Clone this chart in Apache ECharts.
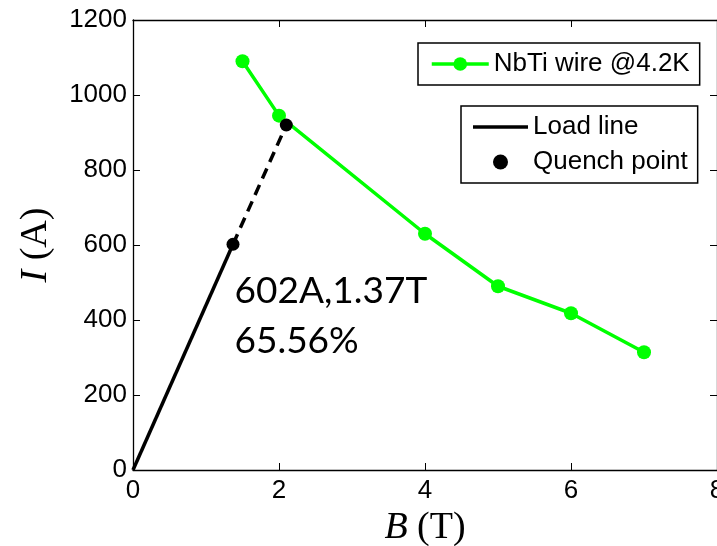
<!DOCTYPE html>
<html>
<head>
<meta charset="utf-8">
<script src="https://cdn.jsdelivr.net/npm/echarts@6/dist/echarts.min.js"></script>
<style>
  html, body { margin: 0; padding: 0; background: #fff; }
  #grafico { width: 717px; height: 546px; }
</style>
</head>
<body>
<div id="grafico"></div>
<script>
	// dados
	var campoB   = [1.5, 2, 4, 5, 6, 7];            // B (T) do fio
	var correnteI = [1090, 945, 630, 490, 418, 314]; // I (A) do fio
	var cargaSolida  = [[0, 0], [1.37, 602]];         // load line (trecho cheio)
	var cargaTracada = [[1.37, 602], [2.1, 920]];     // load line (trecho tracejado)
	var pontosQuench = [[1.37, 602], [2.1, 920]];
	var ticksX = [0, 2, 4, 6, 8];
	var ticksY = [0, 200, 400, 600, 800, 1000, 1200];
	var textoQuench = ['602A,1.37T', '65.56%'];

	var fio = campoB.map(function(b, i){ return [b, correnteI[i]]; });

	var fonte = "'Liberation Sans', Arial, sans-serif";
	var serifa = "'Liberation Serif', 'Times New Roman', serif";
	var eixoBase = {
		type: 'value',
		axisLine: { show: true, onZero: false, lineStyle: { color: '#000', width: 1.3 } },
		axisTick: { show: true, inside: true, length: 7, lineStyle: { color: '#000', width: 1 } },
		splitLine: { show: false }
	};

	var myChart = echarts.init(document.getElementById('grafico'));

	var option = {
		animation: false,
		backgroundColor: '#fff',
		grid: { left: 133, right: 0, top: 20, bottom: 76, containLabel: false, outerBoundsMode: 'none' },
		xAxis: [
			Object.assign({}, eixoBase, {
				min: ticksX[0], max: ticksX[ticksX.length - 1], interval: 2,
				axisLabel: { color: '#000', fontSize: 26, fontFamily: fonte, margin: 8 },
				name: '{i|B} (T)',
				nameLocation: 'middle',
				nameGap: 27,
				nameTextStyle: {
					color: '#000', fontSize: 38, fontFamily: serifa,
					rich: { i: { fontStyle: 'italic', fontSize: 38, fontFamily: serifa, color: '#000' } }
				}
			}),
			Object.assign({}, eixoBase, {
				position: 'top', min: 0, max: 8, interval: 2,
				axisLabel: { show: false }
			})
		],
		yAxis: [
			Object.assign({}, eixoBase, {
				min: ticksY[0], max: ticksY[ticksY.length - 1], interval: 200,
				axisLabel: { color: '#000', fontSize: 26, fontFamily: fonte, margin: 6,
					formatter: function(v){ return String(v); } },
				name: '{i|I} (A)',
				nameLocation: 'middle',
				nameGap: 78,
				nameTextStyle: {
					color: '#000', fontSize: 38, fontFamily: serifa,
					rich: { i: { fontStyle: 'italic', fontSize: 38, fontFamily: serifa, color: '#000' } }
				}
			}),
			Object.assign({}, eixoBase, {
				position: 'right', min: 0, max: 1200, interval: 200,
				axisLabel: { show: false }
			})
		],
		legend: [
			{
				data: ['NbTi wire @4.2K'],
				left: 418, top: 43,
				orient: 'vertical',
				itemWidth: 57, itemHeight: 17,
				padding: [8, 10, 8, 12],
				borderColor: '#000', borderWidth: 1.5,
				lineStyle: { width: 3.5 },
				textStyle: { color: '#000', fontSize: 26, fontFamily: fonte }
			},
			{
				data: [
					{ name: 'Load line', icon: 'path://M0,0 H55 V3.5 H0 Z' },
					{ name: 'Quench point', icon: 'circle' }
				],
				left: 461, top: 106,
				orient: 'vertical',
				align: 'left',
				itemWidth: 55, itemHeight: 15, itemGap: 9,
				padding: [8, 10, 8, 12],
				borderColor: '#000', borderWidth: 1.5,
				textStyle: { color: '#000', fontSize: 26, fontFamily: fonte }
			}
		],
		series: [
			{
				name: 'NbTi wire @4.2K',
				type: 'line',
				data: fio,
				symbol: 'circle', symbolSize: 14,
				lineStyle: { color: '#00ff00', width: 3.5 },
				itemStyle: { color: '#00ff00' },
				z: 2
			},
			{
				name: 'Load line',
				type: 'line',
				data: cargaSolida,
				symbol: 'none',
				lineStyle: { color: '#000', width: 3.5 },
				itemStyle: { color: '#000' },
				z: 3
			},
			{
				name: 'Load line dashed',
				type: 'line',
				data: cargaTracada,
				symbol: 'none',
				lineStyle: { color: '#000', width: 3.5, type: [11, 7] },
				z: 3
			},
			{
				name: 'Quench point',
				type: 'scatter',
				data: pontosQuench.map(function(p, i){
					var item = { value: p };
					if (i === 0) {
						item.label = {
							show: true,
							position: [8, 28],
							align: 'left',
							formatter: textoQuench.join('\n'),
							color: '#000',
							fontSize: 37,
							lineHeight: 50,
							fontFamily: 'Lato, sans-serif'
						};
					}
					return item;
				}),
				symbol: 'circle', symbolSize: 13,
				itemStyle: { color: '#000', opacity: 1 },
				z: 4
			}
		]
	};
	// aplico as alterações de layout no chart
	myChart.setOption(option);
</script>
</body>
</html>
